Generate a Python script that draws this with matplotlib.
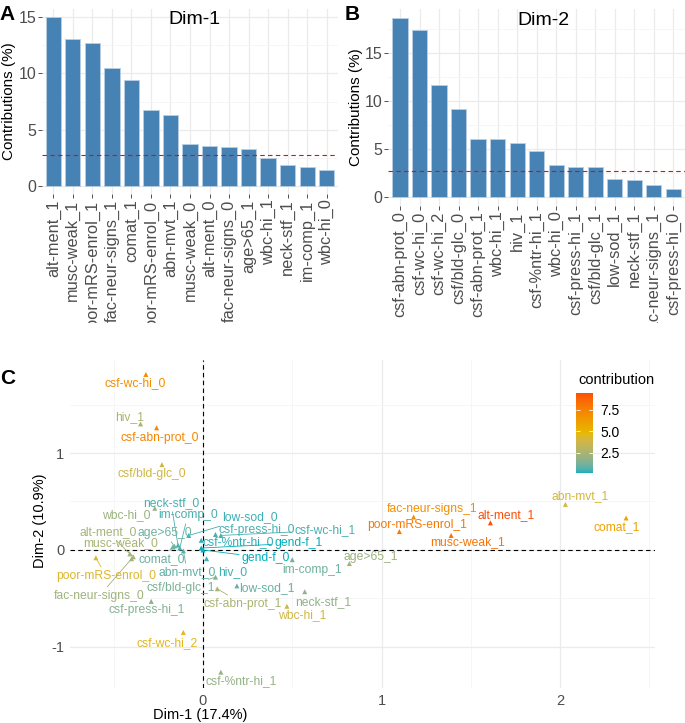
"""Contribution bar charts (Dim-1, Dim-2) and MCA variable map."""

import numpy as np
import matplotlib

matplotlib.use("Agg")
import matplotlib.pyplot as plt
from matplotlib.colors import ListedColormap, Normalize
from matplotlib.transforms import Bbox, TransformedBbox

plt.rcParams["font.family"] = ["Liberation Sans", "DejaVu Sans"]
plt.rcParams["axes.unicode_minus"] = False

W, H = 685, 723
N_CATEGORIES = 37

DIM1_LABELS = [
    "alt-ment_1", "musc-weak_1", "poor-mRS-enrol_1", "fac-neur-signs_1", "comat_1",
    "poor-mRS-enrol_0", "abn-mvt_1", "musc-weak_0", "alt-ment_0", "fac-neur-signs_0",
    "age>65_1", "wbc-hi_1", "neck-stf_1", "im-comp_1", "wbc-hi_0",
]
DIM1_CONTRIB = [15.0, 13.05, 12.7, 10.45, 9.4, 6.77, 6.27, 3.71, 3.56, 3.45,
                3.30, 2.47, 1.87, 1.63, 1.37]

DIM2_LABELS = [
    "csf-abn-prot_0", "csf-wc-hi_0", "csf-wc-hi_2", "csf/bld-glc_0", "csf-abn-prot_1",
    "wbc-hi_1", "hiv_1", "csf-%ntr-hi_1", "wbc-hi_0", "csf-press-hi_1",
    "csf/bld-glc_1", "low-sod_1", "neck-stf_1", "fac-neur-signs_1", "csf-press-hi_0",
]
DIM2_CONTRIB = [18.6, 17.35, 11.67, 9.2, 6.08, 6.04, 5.63, 4.76, 3.30, 3.16,
                3.09, 1.88, 1.74, 1.22, 0.87]

VAR_NAMES = [
    "csf-wc-hi_0", "hiv_1", "csf-abn-prot_0", "csf/bld-glc_0", "neck-stf_0",
    "wbc-hi_0", "im-comp_0", "low-sod_0", "age>65_0", "csf-press-hi_0",
    "csf-wc-hi_1", "csf-%ntr-hi_0", "gend-f_1", "gend-f_0", "hiv_0",
    "abn-mvt_0", "comat_0", "alt-ment_0", "musc-weak_0", "poor-mRS-enrol_0",
    "fac-neur-signs_0", "csf-press-hi_1", "csf/bld-glc_1", "csf-abn-prot_1", "low-sod_1",
    "wbc-hi_1", "neck-stf_1", "im-comp_1", "age>65_1", "csf-wc-hi_2",
    "csf-%ntr-hi_1", "fac-neur-signs_1", "poor-mRS-enrol_1", "alt-ment_1", "musc-weak_1",
    "abn-mvt_1", "comat_1",
]
VAR_DIM1 = [-0.32, -0.35, -0.26, -0.23, -0.14, -0.27, -0.13, -0.08, -0.16, 0.07,
            0.10, -0.01, -0.01, 0.0, 0.02, -0.11, -0.17, -0.41, -0.39, -0.60,
            -0.40, -0.29, 0.07, 0.08, 0.19, 0.47, 0.57, 0.50, 0.82, -0.11,
            0.10, 1.18, 1.10, 1.61, 1.39, 2.03, 2.37]
VAR_DIM2 = [1.81, 1.30, 1.26, 0.88, 0.05, 0.43, 0.02, 0.15, 0.04, 0.16,
            0.15, 0.10, 0.02, 0.0, -0.09, -0.01, 0.03, -0.04, -0.07, -0.08,
            -0.09, -0.53, -0.28, -0.40, -0.37, -0.58, -0.43, -0.10, -0.14, -0.85,
            -1.26, 0.34, 0.19, 0.28, 0.15, 0.47, 0.33]
VAR_CONTRIB = [6.9, 2.5, 7.3, 3.8, 0.5, 2.1, 0.5, 0.4, 1.0, 0.5,
               0.5, 0.3, 0.1, 0.08, 0.4, 0.8, 1.0, 2.3, 2.4, 4.3,
               2.2, 1.5, 1.3, 2.5, 0.9, 3.85, 1.8, 1.1, 2.1, 4.6,
               1.9, 6.9, 7.9, 9.5, 8.1, 4.0, 5.9]

# label placement for panel C: offset in pixels from the point, leader line or not
LABEL_LAYOUT = [
    (-11, -9, 0), (-11, 7, 0), (3, -10, 0), (-10, -9, 0), (-7, 42, 1),
    (-29, -7, 0), (8, 33, 1), (61, 18, 1), (-10, 13, 1), (41, 4, 0),
    (104, 5, 1), (37, -2, 0), (97, 5, 1), (63, -8, 1), (26, -13, 0),
    (4, -21, 1), (-11, -12, 1), (-22, 22, 1), (-13, 14, 1), (10, -18, 1),
    (-32, -37, 1), (-5, -9, 0), (-35, -11, 1), (25, -15, 1), (30, -2, 0),
    (15, -9, 0), (18, -10, 0), (20, -10, 0), (21, 7, 0), (-16, -11, 0),
    (20, -9, 0), (18, 8, 0), (18, 7, 0), (16, 8, 0), (16, -7, 0),
    (15, 8, 0), (-9, -9, 0),
]

GRADIENT = ["#00AFBB", "#E7B800", "#FC4E07"]
GRID = "#ebebeb"
TICK = "#4d4d4d"
RGB_TO_XYZ = np.array([[0.4124, 0.3576, 0.1805], [0.2126, 0.7152, 0.0722], [0.0193, 0.1192, 0.9505]])
WHITE = np.array([0.95047, 1.0, 1.08883])


def _to_lab(rgb):
    c = np.where(rgb > 0.04045, ((rgb + 0.055) / 1.055) ** 2.4, rgb / 12.92)
    xyz = (RGB_TO_XYZ @ c) / WHITE
    f = np.where(xyz > 0.008856, np.cbrt(xyz), 7.787 * xyz + 16 / 116)
    return np.array([116 * f[1] - 16, 500 * (f[0] - f[1]), 200 * (f[1] - f[2])])


def _from_lab(lab):
    fy = (lab[0] + 16) / 116
    f = np.array([fy + lab[1] / 500, fy, fy - lab[2] / 200])
    xyz = np.where(f ** 3 > 0.008856, f ** 3, (f - 16 / 116) / 7.787) * WHITE
    lin = np.linalg.solve(RGB_TO_XYZ, xyz)
    rgb = np.where(lin > 0.0031308, 1.055 * np.abs(lin) ** (1 / 2.4) - 0.055, 12.92 * lin)
    return np.clip(rgb, 0, 1)


def lab_cmap(hexes, n=256):
    """Colour ramp interpolated in CIELAB, like ggplot's gradientn."""
    labs = [_to_lab(np.array(matplotlib.colors.to_rgb(h))) for h in hexes]
    stops = np.linspace(0, 1, len(hexes))
    cols = []
    for t in np.linspace(0, 1, n):
        lab = np.array([np.interp(t, stops, [l[k] for l in labs]) for k in range(3)])
        cols.append(_from_lab(lab))
    return ListedColormap(cols)


def px_axes(fig, left, top, right, bottom):
    return fig.add_axes([left / W, 1 - bottom / H, (right - left) / W, (bottom - top) / H])


def bar_panel(ax, labels, values, clip):
    x = np.arange(len(labels))
    ax.bar(x, values, width=0.78, color="#4682B4", edgecolor="#b9cfe4", linewidth=0.6, zorder=2)
    ax.axhline(100 / N_CATEGORIES, color="red", ls=(0, (4, 3)), lw=0.8, zorder=3)
    top = max(values)
    ax.set_xlim(-0.6, len(labels) - 0.4)
    ax.set_ylim(-0.05 * top, 1.05 * top)
    ax.set_xticks(x)
    ax.set_xticklabels(labels, rotation=90, fontsize=11.8, color=TICK)
    ax.set_yticks([0, 5, 10, 15])
    ax.set_yticks(np.arange(2.5, 1.05 * top, 5), minor=True)
    ax.tick_params(axis="y", labelsize=11.5)
    ax.tick_params(labelcolor=TICK, length=3, width=0.6, color="#333333", pad=1)
    ax.tick_params(which="minor", length=0)
    ax.grid(which="major", color=GRID, lw=0.9)
    ax.grid(which="minor", axis="y", color="#f3f3f3", lw=0.5)
    ax.set_axisbelow(True)
    for s in ax.spines.values():
        s.set_visible(False)
    # long labels are cut off where panel C begins
    for lbl in ax.get_xticklabels():
        lbl.set_clip_box(clip)
        lbl.set_clip_on(True)


def main():
    fig = plt.figure(figsize=(W / 100, H / 100), dpi=100)
    clip = TransformedBbox(Bbox.from_extents(0, 1 - 323 / H, 1, 1), fig.transFigure)

    ax_a = px_axes(fig, 41.6, 9, 338.4, 194)
    bar_panel(ax_a, DIM1_LABELS, DIM1_CONTRIB, clip)
    ax_b = px_axes(fig, 388.3, 9.1, 685, 206)
    bar_panel(ax_b, DIM2_LABELS, DIM2_CONTRIB, clip)

    fig.text(194 / W, 1 - 20 / H, "Dim-1", fontsize=14, ha="center", va="center")
    fig.text(543 / W, 1 - 20.5 / H, "Dim-2", fontsize=14, ha="center", va="center")
    fig.text(9 / W, 1 - 101.5 / H, "Contributions (%)", fontsize=11, rotation=90,
             ha="center", va="center")
    fig.text(356 / W, 1 - 107.5 / H, "Contributions (%)", fontsize=11, rotation=90,
             ha="center", va="center")
    for letter, px, py in [("A", 7.5, 14), ("B", 352.5, 14), ("C", 8, 378)]:
        fig.text(px / W, 1 - py / H, letter, fontsize=15, weight="bold", ha="center", va="center")

    # panel C: variable map coloured by contribution
    cmap = lab_cmap(GRADIENT)
    norm = Normalize(min(VAR_CONTRIB), max(VAR_CONTRIB))
    ax = px_axes(fig, 70, 360, 655, 688)
    ax.axhline(0, color="black", ls=(0, (4, 3)), lw=0.8, zorder=2)
    ax.axvline(0, color="black", ls=(0, (4, 3)), lw=0.8, zorder=2)
    sc = ax.scatter(VAR_DIM1, VAR_DIM2, c=VAR_CONTRIB, cmap=cmap, norm=norm, marker="^",
                    s=13, linewidths=0, zorder=3)
    for name, x, y, v, (dx, dy, lead) in zip(VAR_NAMES, VAR_DIM1, VAR_DIM2, VAR_CONTRIB,
                                              LABEL_LAYOUT):
        col = cmap(norm(v))
        arrow = dict(arrowstyle="-", color=col, lw=0.6, shrinkA=0, shrinkB=1) if lead else None
        ax.annotate(name, (x, y), xytext=(dx, dy), textcoords="offset pixels", fontsize=8.7,
                    color=col, ha="center", va="center", arrowprops=arrow, zorder=4)
    ax.set_xlim(-0.745, 2.532)
    ax.set_ylim(-1.423, 1.959)
    ax.set_xticks([0, 1, 2])
    ax.set_yticks([-1, 0, 1])
    ax.set_xticks([-0.5, 0.5, 1.5, 2.5], minor=True)
    ax.set_yticks([-0.5, 0.5, 1.5], minor=True)
    ax.tick_params(which="both", length=0, labelsize=10.5, labelcolor=TICK, pad=4)
    ax.grid(which="major", color=GRID, lw=0.9)
    ax.grid(which="minor", color="#f3f3f3", lw=0.5)
    ax.set_axisbelow(True)
    for s in ax.spines.values():
        s.set_visible(False)
    fig.text(200 / W, 1 - 715 / H, "Dim-1 (17.4%)", fontsize=10.5, ha="center", va="center")
    fig.text(40 / W, 1 - 521 / H, "Dim-2 (10.9%)", fontsize=10.5, rotation=90,
             ha="center", va="center")

    cax = px_axes(fig, 576, 392.7, 593, 473.3)
    cb = fig.colorbar(sc, cax=cax, ticks=[2.5, 5.0, 7.5])
    cb.outline.set_visible(False)
    cax.yaxis.set_ticklabels(["2.5", "5.0", "7.5"])
    cax.tick_params(direction="in", length=3, width=0.6, color="white", left=True, right=True,
                    labelsize=10, labelcolor="black", pad=5)
    fig.text(578 / W, 1 - 380 / H, "contribution", fontsize=10.5, ha="left", va="center")

    fig.savefig("out.png", dpi=100)
    plt.close(fig)


if __name__ == "__main__":
    main()
